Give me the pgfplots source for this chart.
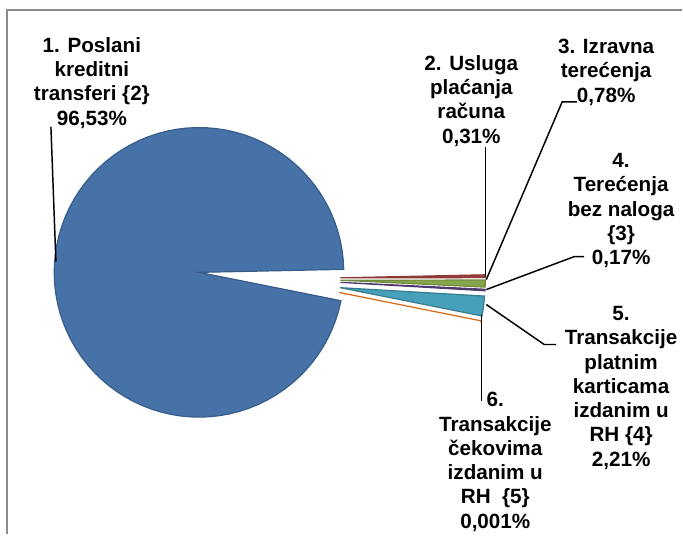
\documentclass[border=0pt]{standalone}
\usepackage{pgfplots}
\pgfplotsset{compat=1.18}
\usepackage{fontspec}
\setmainfont{Liberation Sans}

\definecolor{s1}{HTML}{4672A8}\definecolor{s1d}{HTML}{385D8A}
\definecolor{s2}{HTML}{A0403D}\definecolor{s2d}{HTML}{8C3836}
\definecolor{s3}{HTML}{86A64B}\definecolor{s3d}{HTML}{71893F}
\definecolor{s4}{HTML}{604A8C}\definecolor{s4d}{HTML}{4D3B6E}
\definecolor{s5}{HTML}{46A0B9}\definecolor{s5d}{HTML}{357D91}
\definecolor{s6}{HTML}{E0762A}\definecolor{s6d}{HTML}{D8691C}
\definecolor{frame}{HTML}{8C8C8C}

\tikzset{lbl/.style={font=\fontsize{15.5pt}{18.2pt}\selectfont\bfseries,
                     align=center, inner sep=0pt}}

% shares in percent, pie drawn clockwise from the start angle
\def\startang{348.7}
\def\cx{270}\def\cy{256}\def\rad{145}\def\expl{71}

% #1 start angle, #2 share (%), #3 fill, #4 border; leaves end angle in \lastend
\newcommand\slice[4]{%
  \pgfmathsetmacro\endang{#1-3.6*#2}%
  \pgfmathsetmacro\midang{(#1+\endang)/2}%
  \pgfmathsetmacro\px{\cx+\expl*cos(\midang)}%
  \pgfmathsetmacro\py{\cy+\expl*sin(\midang)}%
  \edef\next{\noexpand\addplot[fill=#3, draw=#4, line width=0.9pt,
      domain=\endang:#1, samples=90, variable=\noexpand\t]
    ({\px+\rad*cos(\noexpand\t)}, {\py+\rad*sin(\noexpand\t)})
    -- (axis cs:\px,\py) -- cycle;}%
  \next
  \global\let\lastend\endang}

\begin{document}
\begin{tikzpicture}
\begin{axis}[
  x=0.75pt, y=0.75pt,
  xmin=0, xmax=683, ymin=0, ymax=535,
  hide axis, clip=false,
]
\path (axis cs:0,0) rectangle (axis cs:683,535);
\draw[frame, line width=1.5pt] (axis cs:7.5,0) -- (axis cs:7.5,525) -- (axis cs:683,525);

\slice{\startang}{96.53}{s1}{s1d}
\slice{\lastend}{0.31}{s2}{s2d}
\slice{\lastend}{0.78}{s3}{s3d}
\slice{\lastend}{0.17}{s4}{s4d}
\slice{\lastend}{2.21}{s5}{s5d}
\slice{\lastend}{0.001}{s6}{s6d}

% leader lines
\draw[black, line width=1.1pt] (axis cs:51,408) -- (axis cs:56,273);
\draw[black, line width=1.1pt] (axis cs:486,388) -- (axis cs:486,258);
\draw[black, line width=1.1pt] (axis cs:578,433) -- (axis cs:563,433) -- (axis cs:487,255);
\draw[black, line width=1.1pt] (axis cs:585,278) -- (axis cs:575,278) -- (axis cs:487,245);
\draw[black, line width=1.1pt] (axis cs:487,230) -- (axis cs:545,190) -- (axis cs:557,190);
\draw[black, line width=1.1pt] (axis cs:482,220) -- (axis cs:482,133);

% data labels
\node[lbl] at (axis cs:92,452) {1. Poslani\\kreditni\\transferi \{2\}\\96,53\%};
\node[lbl] at (axis cs:472,434) {2. Usluga\\plaćanja\\računa\\0,31\%};
\node[lbl] at (axis cs:607,462.5) {3. Izravna\\terećenja\\0,78\%};
\node[lbl] at (axis cs:622,324) {4.\\Terećenja\\bez naloga\\\{3\}\\0,17\%};
\node[lbl] at (axis cs:622,146.5) {5.\\Transakcije\\platnim\\karticama\\izdanim u\\RH \{4\}\\2,21\%};
\node[lbl] at (axis cs:496,72.5) {6.\\Transakcije\\čekovima\\izdanim u\\RH\ \ \{5\}\\0,001\%};
\end{axis}
\end{tikzpicture}
\end{document}
